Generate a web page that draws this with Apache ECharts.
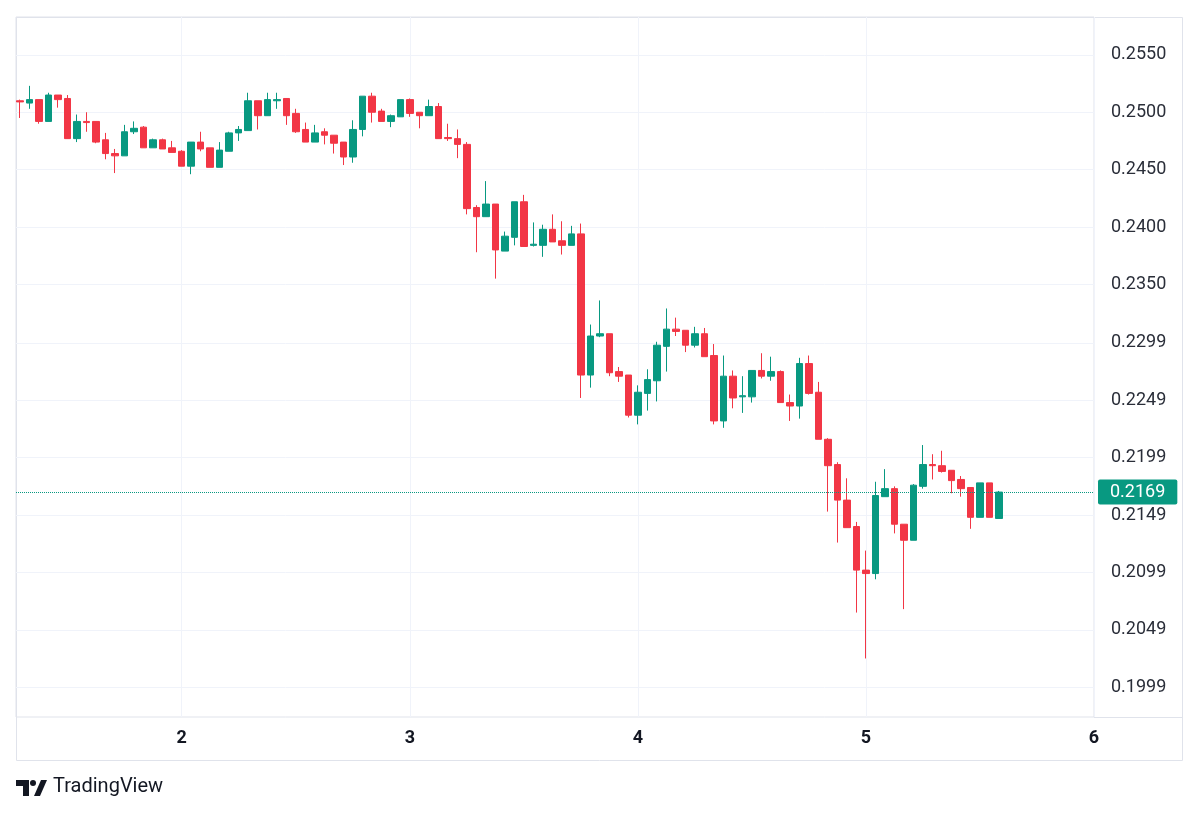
<!DOCTYPE html>
<html>
<head>
<meta charset="utf-8">
<title>Candles</title>
<script src="https://cdn.jsdelivr.net/npm/echarts@6/dist/echarts.min.js"></script>
<style>
  html, body { margin: 0; padding: 0; background: #ffffff; }
  #chart { width: 1200px; height: 817px; }
</style>
</head>
<body>
<div id="chart"></div>
<script>
// hourly candles, first one at hour 7 of day 1
const firstHour = 7;

const opens = [
  0.2510, 0.2508, 0.2511, 0.2492, 0.2515, 0.2512, 0.2477, 0.2492, 0.2492, 0.2476, 0.2464, 0.2462, 0.2483,
  0.2487, 0.2469, 0.2476, 0.2469, 0.2466, 0.2453, 0.2474, 0.2469, 0.2452, 0.2466, 0.2482, 0.2484, 0.2510,
  0.2497, 0.2510, 0.2512, 0.2499, 0.2485, 0.2474, 0.2483, 0.2480, 0.2474, 0.2461, 0.2485, 0.2514, 0.2501,
  0.2492, 0.2496, 0.2511, 0.2500, 0.2497, 0.2505, 0.2478, 0.2477, 0.2472, 0.2417, 0.2409, 0.2420, 0.2379,
  0.2391, 0.2422, 0.2384, 0.2384, 0.2398, 0.2388, 0.2384, 0.2394, 0.2271, 0.2305, 0.2307, 0.2274, 0.2271,
  0.2236, 0.2255, 0.2266, 0.2296, 0.2311, 0.2310, 0.2297, 0.2307, 0.2288, 0.2231, 0.2270, 0.2252, 0.2252,
  0.2275, 0.2270, 0.2274, 0.2247, 0.2244, 0.2281, 0.2256, 0.2215, 0.2193, 0.2162, 0.2139, 0.2101, 0.2098,
  0.2165, 0.2172, 0.2141, 0.2127, 0.2174, 0.2193, 0.2192, 0.2188, 0.2180, 0.2173, 0.2147, 0.2177, 0.2146
];
const closes = [
  0.2509, 0.2511, 0.2492, 0.2515, 0.2511, 0.2477, 0.2492, 0.2491, 0.2474, 0.2464, 0.2462, 0.2483, 0.2486,
  0.2469, 0.2476, 0.2468, 0.2465, 0.2453, 0.2474, 0.2468, 0.2452, 0.2467, 0.2482, 0.2485, 0.2510, 0.2497,
  0.2511, 0.2511, 0.2497, 0.2483, 0.2474, 0.2482, 0.2480, 0.2473, 0.2461, 0.2485, 0.2514, 0.2500, 0.2492,
  0.2497, 0.2511, 0.2499, 0.2497, 0.2505, 0.2477, 0.2477, 0.2472, 0.2416, 0.2409, 0.2420, 0.2380, 0.2392,
  0.2422, 0.2383, 0.2385, 0.2398, 0.2387, 0.2384, 0.2394, 0.2271, 0.2305, 0.2307, 0.2273, 0.2270, 0.2236,
  0.2256, 0.2267, 0.2297, 0.2311, 0.2309, 0.2297, 0.2307, 0.2287, 0.2231, 0.2270, 0.2251, 0.2253, 0.2275,
  0.2270, 0.2274, 0.2247, 0.2244, 0.2281, 0.2255, 0.2215, 0.2192, 0.2162, 0.2138, 0.2101, 0.2098, 0.2166,
  0.2172, 0.2141, 0.2127, 0.2175, 0.2193, 0.2192, 0.2187, 0.2179, 0.2172, 0.2147, 0.2177, 0.2147, 0.2169
];
const lows = [
  0.2495, 0.2503, 0.2490, 0.2492, 0.2504, 0.2477, 0.2474, 0.2483, 0.2473, 0.2459, 0.2447, 0.2462, 0.2481,
  0.2469, 0.2469, 0.2468, 0.2465, 0.2453, 0.2446, 0.2466, 0.2452, 0.2452, 0.2466, 0.2475, 0.2484, 0.2485,
  0.2497, 0.2503, 0.2489, 0.2482, 0.2474, 0.2474, 0.2472, 0.2464, 0.2454, 0.2456, 0.2479, 0.2491, 0.2492,
  0.2487, 0.2496, 0.2496, 0.2486, 0.2497, 0.2477, 0.2475, 0.2460, 0.2411, 0.2378, 0.2409, 0.2355, 0.2379,
  0.2384, 0.2383, 0.2383, 0.2374, 0.2387, 0.2376, 0.2384, 0.2251, 0.2260, 0.2304, 0.2270, 0.2265, 0.2234,
  0.2228, 0.2240, 0.2248, 0.2274, 0.2305, 0.2291, 0.2295, 0.2287, 0.2228, 0.2225, 0.2242, 0.2238, 0.2247,
  0.2268, 0.2266, 0.2247, 0.2231, 0.2233, 0.2254, 0.2215, 0.2152, 0.2125, 0.2138, 0.2064, 0.2024, 0.2093,
  0.2165, 0.2133, 0.2067, 0.2127, 0.2172, 0.2180, 0.2186, 0.2168, 0.2165, 0.2137, 0.2147, 0.2147, 0.2146
];
const highs = [
  0.2511, 0.2523, 0.2511, 0.2517, 0.2515, 0.2515, 0.2498, 0.2500, 0.2492, 0.2482, 0.2468, 0.2489, 0.2492,
  0.2488, 0.2477, 0.2477, 0.2475, 0.2467, 0.2474, 0.2483, 0.2469, 0.2474, 0.2483, 0.2488, 0.2517, 0.2510,
  0.2517, 0.2517, 0.2512, 0.2503, 0.2491, 0.2489, 0.2486, 0.2480, 0.2474, 0.2493, 0.2514, 0.2517, 0.2503,
  0.2498, 0.2511, 0.2512, 0.2500, 0.2511, 0.2508, 0.2490, 0.2485, 0.2474, 0.2419, 0.2440, 0.2420, 0.2396,
  0.2422, 0.2428, 0.2404, 0.2402, 0.2411, 0.2405, 0.2401, 0.2403, 0.2315, 0.2336, 0.2307, 0.2278, 0.2271,
  0.2262, 0.2276, 0.2300, 0.2329, 0.2321, 0.2310, 0.2313, 0.2312, 0.2298, 0.2288, 0.2275, 0.2270, 0.2275,
  0.2290, 0.2287, 0.2275, 0.2254, 0.2286, 0.2288, 0.2265, 0.2216, 0.2195, 0.2181, 0.2143, 0.2118, 0.2178,
  0.2189, 0.2174, 0.2141, 0.2176, 0.2210, 0.2202, 0.2205, 0.2188, 0.2183, 0.2173, 0.2177, 0.2177, 0.2170
];

const priceTicks = [0.1999, 0.2049, 0.2099, 0.2149, 0.2199, 0.2249, 0.2299, 0.2350, 0.2400, 0.2450, 0.2500, 0.2550];
const dayTicks = [24, 48, 72, 96, 120];
const dayLabels = ['2', '3', '4', '5', '6'];

const UP = '#089981';
const DOWN = '#f23645';
const GRID = '#f0f3fa';
const FRAME = '#e0e3eb';
const FONT = 'Roboto, "Noto Sans", sans-serif';

const candles = opens.map((o, i) => [firstHour + i, o, closes[i], lows[i], highs[i]]);
const lastClose = closes[closes.length - 1];

const chart = echarts.init(document.getElementById('chart'));

chart.setOption({
  animation: false,
  backgroundColor: '#ffffff',
  textStyle: { fontFamily: FONT },
  grid: {
    left: 16, top: 17, right: 106, bottom: 100,
    show: true, borderColor: FRAME, borderWidth: 1
  },
  xAxis: {
    type: 'value',
    min: 6.56,
    max: 120,
    axisLine: { show: false },
    axisTick: { show: false, customValues: dayTicks },
    splitLine: { show: true, lineStyle: { color: GRID, width: 1 } },
    axisLabel: {
      customValues: dayTicks,
      formatter: (v) => dayLabels[dayTicks.indexOf(v)] || '',
      color: '#131722',
      fontWeight: 'bold',
      fontSize: 18,
      margin: 12
    }
  },
  yAxis: {
    type: 'value',
    position: 'right',
    min: 0.1973,
    max: 0.2583,
    scale: true,
    axisLine: { show: false },
    axisTick: { show: false, customValues: priceTicks },
    splitLine: { show: true, lineStyle: { color: GRID, width: 1 } },
    axisLabel: {
      customValues: priceTicks,
      formatter: (v) => v.toFixed(4),
      color: '#2a2e39',
      fontSize: 18,
      margin: 17
    }
  },
  series: [{
    type: 'candlestick',
    data: candles,
    encode: { x: 0, y: [1, 2, 3, 4] },
    barWidth: 7,
    itemStyle: {
      color: UP,
      color0: DOWN,
      borderColor: UP,
      borderColor0: DOWN,
      borderWidth: 1
    },
    markLine: {
      silent: true,
      precision: 4, // default of 2 would snap the line to 0.22
      symbol: ['none', 'none'],
      lineStyle: { color: UP, type: 'dotted', width: 1 },
      label: {
        show: true,
        position: 'end',
        distance: 4,
        formatter: () => lastClose.toFixed(4),
        backgroundColor: UP,
        color: '#ffffff',
        fontSize: 18,
        padding: [4, 12, 3, 12],
        borderRadius: 2
      },
      data: [{ yAxis: lastClose }]
    }
  }],
  graphic: [
    {
      type: 'rect', silent: true,
      shape: { x: 16.5, y: 17.5, width: 1166, height: 743 },
      style: { fill: 'none', stroke: FRAME, lineWidth: 1 }
    },
    {
      type: 'line', silent: true,
      shape: { x1: 1094, y1: 717.5, x2: 1183, y2: 717.5 },
      style: { stroke: FRAME, lineWidth: 1 }
    },
    // TradingView logo
    {
      type: 'group', left: 16, top: 780, silent: true,
      children: [
        { type: 'rect', shape: { x: 0, y: 1, width: 13, height: 6 }, style: { fill: '#131722' } },
        { type: 'rect', shape: { x: 7, y: 1, width: 6, height: 16 }, style: { fill: '#131722' } },
        { type: 'circle', shape: { cx: 17, cy: 4, r: 3 }, style: { fill: '#131722' } },
        { type: 'polygon', shape: { points: [[25, 1], [31, 1], [24, 17], [18, 17]] }, style: { fill: '#131722' } }
      ]
    },
    {
      type: 'text', left: 53, top: 777, silent: true,
      style: { text: 'TradingView', fill: '#131722', font: '20px ' + FONT }
    }
  ]
});
</script>
</body>
</html>
